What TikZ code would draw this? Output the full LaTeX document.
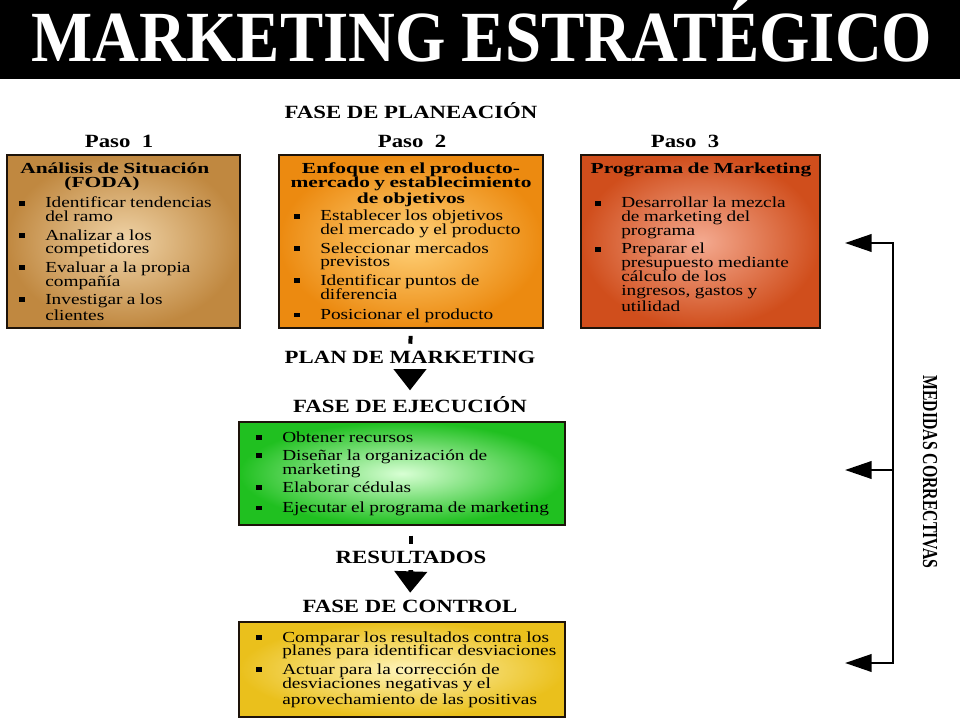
\documentclass[tikz,border=0pt]{standalone}
\usepackage{fontspec}
\setmainfont{Liberation Serif}
\newfontfamily\titlefont{Liberation Serif}[FakeStretch=0.9]
\newfontfamily\headfont{Liberation Serif}[FakeStretch=1.22]
\newfontfamily\boxfont{Liberation Serif}[FakeStretch=1.26]
\newfontfamily\boxheadfont{Liberation Serif}[FakeStretch=1.4]
\newfontfamily\sidefont{Liberation Serif}[FakeStretch=0.74]
\usetikzlibrary{arrows.meta}

\definecolor{foda}{HTML}{C08840}
\definecolor{fodain}{HTML}{F0D4A8}
\definecolor{enfoque}{HTML}{EC8A10}
\definecolor{enfoquein}{HTML}{FFD27A}
\definecolor{programa}{HTML}{D04E1C}
\definecolor{programain}{HTML}{F4AA90}
\definecolor{ejecucion}{HTML}{20C020}
\definecolor{ejecucionin}{HTML}{D8FFD4}
\definecolor{control}{HTML}{EAC01C}
\definecolor{controlin}{HTML}{FFF4B8}

\newcommand{\apretado}{\fontsize{11.5}{10.4}\selectfont\lineskiplimit=-20pt\relax}
\newcommand{\bul}{\rule[1.8pt]{4pt}{3.4pt}}
\newcommand{\pto}{\makebox[19.5pt][l]{\bul}}
\newcommand{\sig}{\hspace*{19.5pt}}

\tikzset{
	caja/.style={draw=black!85!brown, line width=1.8pt, inner sep=0pt},
	lista/.style={anchor=base west, inner sep=0pt, text width=260pt, align=left, font=\boxfont},
	cabeza/.style={anchor=base, inner sep=0pt, text width=200pt, align=center, font=\boxheadfont\bfseries},
	fase/.style={anchor=base, inner sep=1pt, font=\headfont\bfseries\fontsize{14}{14}\selectfont},
	tope/.style={line width=3pt},
	flecha/.style={line width=3.5pt, -{Triangle[length=16pt,width=24pt]}},
	medida/.style={line width=2.2pt},
}

\begin{document}
\begin{tikzpicture}[x=0.75pt, y=-0.75pt]
		\useasboundingbox (0,0) rectangle (960,720);
		\fill[black] (0,0) rectangle (960,79);
		\node[anchor=base, inner sep=0pt, text=white, font=\titlefont\bfseries\fontsize{54}{56}\selectfont] (titulo) at (482,62) {MARKETING ESTRATÉGICO};

		\node[fase] (planeacion) at (411,119) {FASE DE PLANEACIÓN};
		\node[fase] (paso1) at (119,148) {Paso\ \ 1};
		\node[fase] (paso2) at (412,148) {Paso\ \ 2};
		\node[fase] (paso3) at (685,148) {Paso\ \ 3};

		\node[caja, minimum width=174.75pt, minimum height=129.75pt, inner color=fodain, outer color=foda] (cajaFoda) at (123.5,241.5) {};
		\node[caja, minimum width=198pt, minimum height=129.75pt, inner color=enfoquein, outer color=enfoque] (cajaEnfoque) at (411,241.5) {};
		\node[caja, minimum width=179.25pt, minimum height=129.75pt, inner color=programain, outer color=programa] (cajaPrograma) at (700.5,241.5) {};
		\node[caja, minimum width=244.5pt, minimum height=77.25pt, inner color=ejecucionin, outer color=ejecucion] (cajaEjec) at (402,473.5) {};
		\node[caja, minimum width=244.5pt, minimum height=71.25pt, inner color=controlin, outer color=control] (cajaControl) at (402,669.5) {};

		\node[cabeza, anchor=base west, align=left] (hFoda) at (20,174) {\apretado Análisis de Situación};
		\node[cabeza] (hFoda2) at (102,188) {\apretado (FODA)};
		\node[cabeza] (hEnfoque) at (411,174) {\apretado Enfoque en el producto-\\mercado y establecimiento\\de objetivos};
		\node[cabeza] (hPrograma) at (701,174) {\apretado Programa de Marketing};

		\node[lista] (tFoda) at (19,208) {\apretado\pto Identificar tendencias\\
			\sig del ramo\\[3.3pt]
			\pto Analizar a los\\
			\sig competidores\\[3.3pt]
			\pto Evaluar a la propia\\
			\sig compañía\\[3.3pt]
			\pto Investigar a los\\
			\sig clientes};
		\node[lista] (tEnfoque) at (294,221) {\apretado\pto Establecer los objetivos\\
			\sig del mercado y el producto\\[3.3pt]
			\pto Seleccionar mercados\\
			\sig previstos\\[3.3pt]
			\pto Identificar puntos de\\
			\sig diferencia\\[3.3pt]
			\pto Posicionar el producto};
		\node[lista] (tPrograma) at (595,208) {\apretado\pto Desarrollar la mezcla\\
			\sig de marketing del\\
			\sig programa\\[3.3pt]
			\pto Preparar el\\
			\sig presupuesto mediante\\
			\sig cálculo de los\\
			\sig ingresos, gastos y\\
			\sig utilidad};
		\node[lista] (tEjec) at (256,442) {\apretado\pto Obtener recursos\\[3.3pt]
			\pto Diseñar la organización de\\
			\sig marketing\\[3.3pt]
			\pto Elaborar cédulas\\[3.3pt]
			\pto Ejecutar el programa de marketing};
		\node[lista] (tControl) at (256,642) {\apretado\pto Comparar los resultados contra los\\
			\sig planes para identificar desviaciones\\[3.3pt]
			\pto Actuar para la corrección de\\
			\sig desviaciones negativas y el\\
			\sig aprovechamiento de las positivas};

		\node[fase] (plan) at (410,363) {PLAN DE MARKETING};
		\node[fase] (ejec) at (410,412) {FASE DE EJECUCIÓN};
		\node[fase] (resultados) at (411,563) {RESULTADOS};
		\node[fase] (control) at (410,612) {FASE DE CONTROL};

		\draw[tope, shorten <=5pt, shorten >=4pt] (cajaEnfoque.south) -- (plan.north);
		\draw[flecha, shorten <=4pt, shorten >=3pt] (plan.south) -- (ejec.north);
		\draw[tope, shorten <=7pt, shorten >=4pt] (cajaEjec.south -| resultados) -- (resultados.north);
		\draw[flecha, shorten <=4pt, shorten >=4pt] (resultados.south) -- (control.north);

		\coordinate (r1) at (893,243);
		\coordinate (r2) at (893,470);
		\coordinate (r3) at (893,663);
		\coordinate (m1) at (845,243);
		\coordinate (m2) at (845,470);
		\coordinate (m3) at (845,663);
		\draw[medida, {Triangle[length=20pt,width=13pt]}-{Triangle[length=20pt,width=13pt]}] (m1) -- (r1) -- (r3) -- (m3);
		\draw[medida, -{Triangle[length=20pt,width=13pt]}] (r2) -- (m2);

		\node[rotate=-90, inner sep=0pt, font=\sidefont\bfseries\fontsize{16}{18}\selectfont] (medidas) at (930,472) {MEDIDAS CORRECTIVAS};
\end{tikzpicture}
\end{document}
